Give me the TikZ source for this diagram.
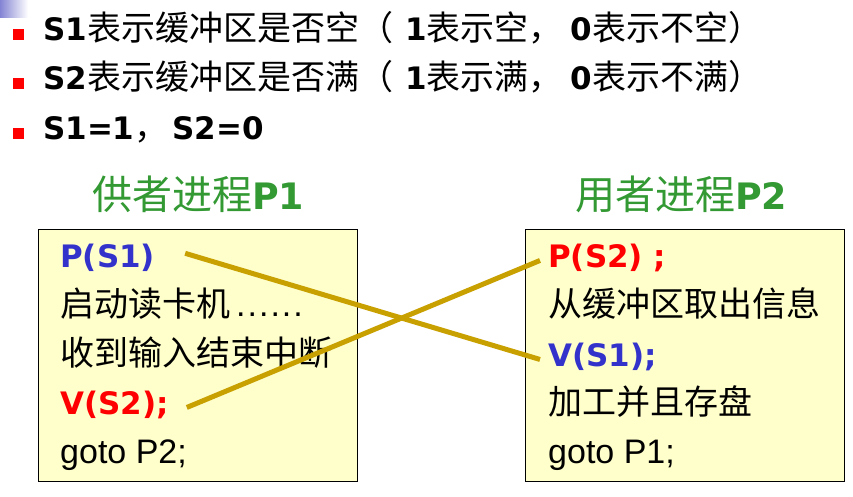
\documentclass[tikz,border=0pt]{standalone}
\usepackage{xcolor}
\usepackage{fontspec}
\setmainfont{Liberation Sans}
\newfontfamily\cjk{Noto Sans CJK SC}
\newfontfamily\vfont{DejaVu Sans}[Scale=0.91]
\usepackage{tikz}
\usetikzlibrary{positioning}
\definecolor{OGold}{HTML}{C8A000}
\definecolor{OBlue}{HTML}{3333CC}
\definecolor{ORed}{HTML}{FF0000}
\definecolor{OGreen}{HTML}{339933}
\definecolor{OPaper}{HTML}{FFFFCC}
\definecolor{OCorner}{HTML}{8484D4}
\newcommand\vb[1]{{\vfont\bfseries #1}}
\newcommand\zh[1]{{\cjk #1}}

\begin{document}
\begin{tikzpicture}[
  x=1pt,y=-1pt,
  row/.style={anchor=base west,inner sep=0pt,font=\fontsize{34}{40}\selectfont},
  bul/.style={fill=ORed,minimum size=11pt,inner sep=0pt},
  ttl/.style={anchor=base west,inner sep=0pt,text=OGreen,
    font=\fontsize{40}{46}\selectfont},
  box/.style={draw=black,line width=1pt,fill=OPaper,inner sep=0pt,
    minimum width=319pt,minimum height=252pt},
  ln/.style={anchor=base west,inner sep=0pt,font=\fontsize{34}{40}\selectfont},
  link/.style={line width=5pt,color=OGold}
]
  \useasboundingbox (0,0) rectangle (853,496);
  \shade[left color=OCorner,right color=white] (0,0) rectangle (28,17);

  % the three statements at the top
  \node[row] (r1) at (43,40) {\vb{S1}\zh{表示缓冲区是否空（}\kern12pt\vb{1}\zh{表示空，}\kern8pt\vb{0}\zh{表示不空）}};
  \node[row] (r2) at (43,89) {\vb{S2}\zh{表示缓冲区是否满（}\kern12pt\vb{1}\zh{表示满，}\kern8pt\vb{0}\zh{表示不满）}};
  \node[row] (r3) at (43,139) {\vb{S1=1}\zh{，}\kern4pt\vb{S2=0}};
  \node[bul] (b1) at (18.5,34.5) {};
  \node[bul] (b2) at (18.5,83.5) {};
  \node[bul] (b3) at (18.5,133.5) {};

  % producer and consumer
  \node[ttl] (t1) at (92,209) {\zh{供者进程}\vb{P1}};
  \node[ttl] (t2) at (575,209) {\zh{用者进程}\vb{P2}};
  \node[box] (bl) at (197.5,355) {};
  \node[box] (br) at (684.5,355) {};

  \node[ln,text=OBlue] (ps1) at (60,267) {\vb{P(S1)}};
  \node[ln] (read) at (60,316) {\zh{启动读卡机}\kern6pt .\kern2pt.\kern2pt.\kern2pt.\kern2pt.\kern2pt.};
  \node[ln] (recv) at (60,365) {\zh{收到输入结束中断}};
  \node[ln,text=ORed] (vs2) at (60,414) {\vb{V(S2);}};
  \node[ln] (go2) at (60,463) {goto P2;};

  \node[ln,text=ORed] (ps2) at (548,267) {\vb{P(S2) ;}};
  \node[ln] (take) at (548,316) {\zh{从缓冲区取出信息}};
  \node[ln,text=OBlue] (vs1) at (548,366) {\vb{V(S1);}};
  \node[ln] (work) at (548,414) {\zh{加工并且存盘}};
  \node[ln] (go1) at (548,463) {goto P1;};

  \draw[link] ([xshift=30pt,yshift=4pt]ps1.east) -- ([xshift=-8pt,yshift=-3pt]vs1.west);
  \draw[link] ([xshift=18pt,yshift=-3pt]vs2.east) -- ([xshift=-8pt,yshift=-3pt]ps2.west);
\end{tikzpicture}
\end{document}
